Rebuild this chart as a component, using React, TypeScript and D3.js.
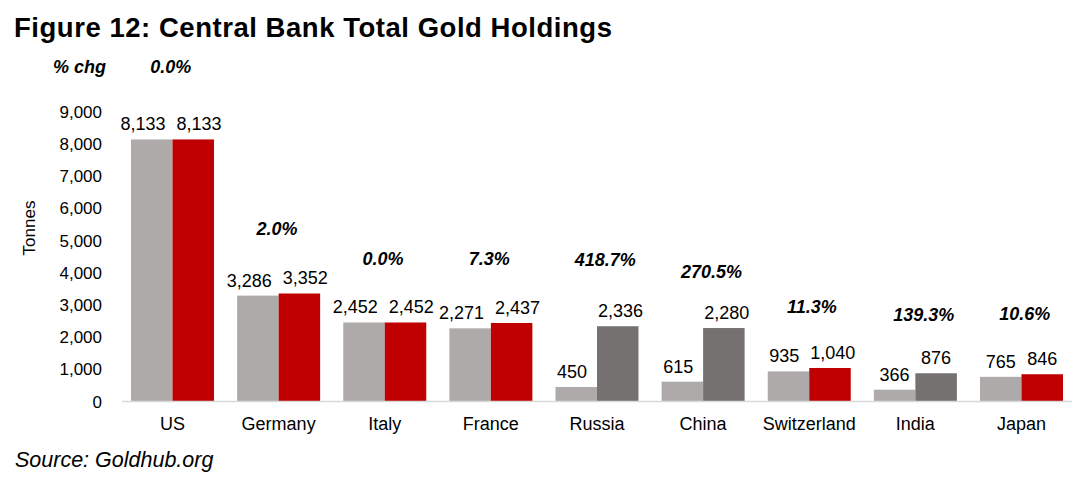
import React from "react";
import * as d3 from "d3";

const categories = ["US", "Germany", "Italy", "France", "Russia", "China", "Switzerland", "India", "Japan"];
const holdingsStart = [8133, 3286, 2452, 2271, 450, 615, 935, 366, 765];
const holdingsNow = [8133, 3352, 2452, 2437, 2336, 2280, 1040, 876, 846];
const group = ["major", "major", "major", "major", "emerging", "emerging", "major", "emerging", "major"];
const pctChange = ["0.0%", "2.0%", "0.0%", "7.3%", "418.7%", "270.5%", "11.3%", "139.3%", "10.6%"];
// level (in tonnes) at which each % change annotation sits
const pctLevel = [10390, 5375, 4444, 4444, 4391, 4028, 2942, 2684, 2716];
const yTicks = [0, 1000, 2000, 3000, 4000, 5000, 6000, 7000, 8000, 9000];

const W = 1083;
const H = 484;
const FONT = "'Liberation Sans', Arial, Helvetica, sans-serif";
const C_START = "#AEAAAA";
const C_NOW = "#C00000";
const C_EM = "#767171";
const VAL_FS = 18;

export default function App() {
  const x = d3
    .scaleBand<string>()
    .domain(categories)
    .range([122, 1072])
    .paddingInner(0.218)
    .paddingOuter(0.085);
  const step = x.step();
  const bw = x.bandwidth() / 2;
  const y = d3.scaleLinear().domain([0, 9000]).range([401.5, 111.5]);
  const fmt = d3.format(",");
  const estW = (s: string) => {
    let w = 0;
    for (const ch of s) w += ch === "," ? 0.278 : 0.556;
    return w * VAL_FS;
  };

  return (
    <svg
      width={W}
      height={H}
      style={{ position: "absolute", left: 0, top: 0, background: "#fff" }}
      fontFamily={FONT}
    >
      <rect width={W} height={H} fill="#fff" />
      <text x={14} y={36.5} fontSize={27.5} fontWeight="bold" fill="#000" textLength={598} lengthAdjust="spacing">
        Figure 12: Central Bank Total Gold Holdings
      </text>
      <text x={53} y={72.5} fontSize={18} fontWeight="bold" fontStyle="italic" fill="#000">
        % chg
      </text>

      {yTicks.map((t) => (
        <text key={t} x={102} y={y(t)} dy="0.36em" textAnchor="end" fontSize={17} fill="#000">
          {fmt(t)}
        </text>
      ))}
      <text
        transform={`translate(29,228) rotate(-90)`}
        textAnchor="middle"
        dy="0.36em"
        fontSize={17}
        fill="#000"
      >
        Tonnes
      </text>

      {categories.map((c, i) => {
        const x0 = x(c)!;
        const s = holdingsStart[i];
        const n = holdingsNow[i];
        const col = group[i] === "emerging" ? C_EM : C_NOW;
        const ls = fmt(s);
        const ln = fmt(n);
        // push overlapping value labels apart
        const gap = bw - (estW(ls) + estW(ln)) / 2;
        const deficit = Math.max(0, 11 - gap);
        const shiftL = -deficit * 0.6;
        const shiftR = deficit * 0.4;
        return (
          <g key={c}>
            <rect x={x0} y={y(s)} width={bw} height={y(0) - y(s)} fill={C_START} />
            <rect x={x0 + bw} y={y(n)} width={bw} height={y(0) - y(n)} fill={col} />
            <text x={x0 + bw / 2 + shiftL} y={y(s) - 9} textAnchor="middle" fontSize={VAL_FS} fill="#000">
              {ls}
            </text>
            <text x={x0 + bw * 1.5 + shiftR} y={y(n) - 9} textAnchor="middle" fontSize={VAL_FS} fill="#000">
              {ln}
            </text>
            <text
              x={x0 - step * 0.085 + step * 0.267}
              y={y(pctLevel[i])}
              dy="0.36em"
              fontSize={18}
              fontWeight="bold"
              fontStyle="italic"
              fill="#000"
            >
              {pctChange[i]}
            </text>
            <text x={x0 + bw} y={430} textAnchor="middle" fontSize={18} fill="#000">
              {c}
            </text>
          </g>
        );
      })}

      <line x1={122} x2={1072} y1={y(0)} y2={y(0)} stroke="#D9D9D9" strokeWidth={1.5} />

      <text x={15} y={467} fontSize={21.5} fontStyle="italic" fill="#000">
        Source: Goldhub.org
      </text>
    </svg>
  );
}
